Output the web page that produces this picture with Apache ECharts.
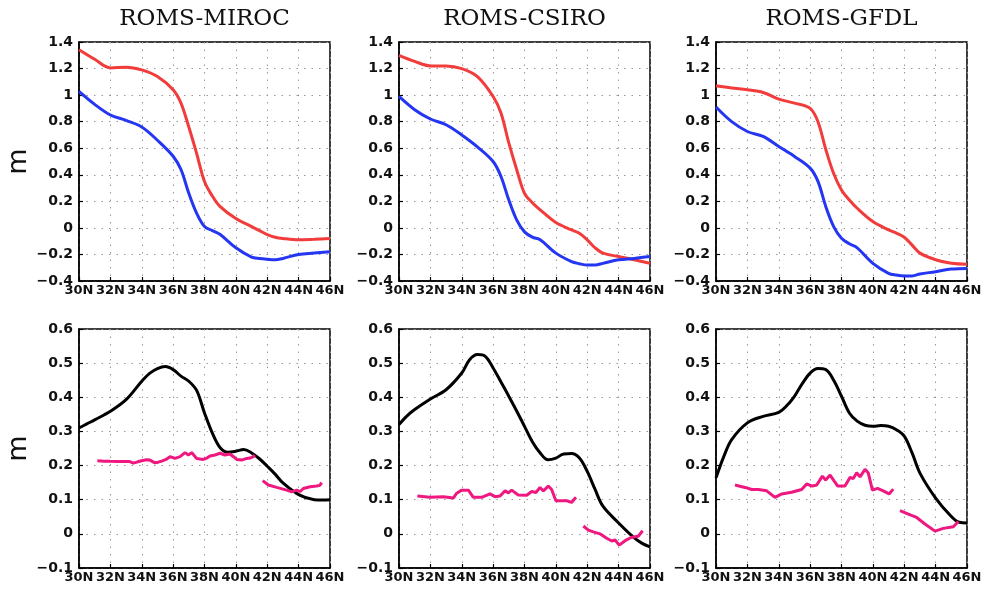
<!DOCTYPE html>
<html>
<head>
<meta charset="utf-8">
<script src="https://cdn.jsdelivr.net/npm/echarts@6/dist/echarts.min.js"></script>
<style>html,body{margin:0;padding:0;background:#fff}#c{width:992px;height:591px}</style>
</head>
<body>
<div id="c"></div>
<script>
const titles = ['ROMS-MIROC', 'ROMS-CSIRO', 'ROMS-GFDL'];
const xTicks = [30, 32, 34, 36, 38, 40, 42, 44, 46];

// Top row: latitude grid and sea level curves (m)
const latTop = [30,31,32,33,34,35,36,36.5,37,37.5,38,38.5,39,40,41,41.5,42,42.5,43,44,45,46];
const mirocRed  = [1.342,1.27,1.205,1.21,1.19,1.14,1.04,0.94,0.76,0.56,0.35,0.24,0.16,0.07,0.01,-0.02,-0.05,-0.07,-0.08,-0.09,-0.086,-0.08];
const mirocBlue = [1.028,0.93,0.85,0.81,0.76,0.66,0.54,0.44,0.26,0.11,0.01,-0.02,-0.05,-0.15,-0.22,-0.23,-0.236,-0.24,-0.23,-0.2,-0.19,-0.18];
const csiroRed  = [1.30,1.254,1.22,1.22,1.20,1.14,0.99,0.865,0.64,0.44,0.26,0.19,0.136,0.04,-0.015,-0.04,-0.09,-0.15,-0.19,-0.216,-0.24,-0.267];
const csiroBlue = [0.99,0.89,0.82,0.777,0.70,0.61,0.50,0.387,0.21,0.06,-0.03,-0.07,-0.09,-0.19,-0.254,-0.27,-0.28,-0.28,-0.267,-0.24,-0.23,-0.216];
const gfdlRed   = [1.07,1.053,1.04,1.02,0.97,0.94,0.90,0.80,0.59,0.41,0.286,0.21,0.148,0.048,-0.015,-0.04,-0.07,-0.13,-0.19,-0.24,-0.267,-0.274];
const gfdlBlue  = [0.91,0.80,0.726,0.689,0.613,0.538,0.45,0.35,0.16,0.01,-0.078,-0.12,-0.15,-0.267,-0.342,-0.355,-0.362,-0.362,-0.347,-0.33,-0.31,-0.305];

// Bottom row: black curves
const latBot = [30,30.5,31,32,33,34,34.5,35,35.5,36,36.5,37,37.5,38,38.5,39,39.5,40,40.5,41,41.5,42,42.5,43,44,45,45.5,46];
const mirocBlack = [0.31,0.322,0.334,0.359,0.393,0.447,0.47,0.484,0.49,0.481,0.462,0.447,0.42,0.354,0.295,0.252,0.239,0.242,0.247,0.237,0.22,0.198,0.175,0.149,0.115,0.10,0.099,0.10];
const csiroBlack = [0.32,0.345,0.364,0.395,0.422,0.471,0.51,0.525,0.52,0.486,0.445,0.403,0.36,0.315,0.27,0.237,0.217,0.222,0.234,0.235,0.222,0.183,0.13,0.081,0.032,-0.012,-0.028,-0.038];
const gfdlBlack  = [0.164,0.227,0.276,0.325,0.344,0.356,0.375,0.403,0.44,0.471,0.484,0.481,0.45,0.403,0.354,0.33,0.318,0.315,0.317,0.315,0.305,0.286,0.237,0.178,0.105,0.051,0.034,0.032];

// Bottom row: pink curves, two segments each
const mirocPinkLatA = [31.17,31.6,31.98,32.4,32.83,33.2,33.46,33.75,33.99,34.3,34.52,34.84,35.05,35.27,35.55,35.8,36.12,36.44,36.76,36.97,37.18,37.5,37.92,38.15,38.35,38.67,38.99,39.3,39.62,39.85,40.05,40.37,40.69,40.9,41.11,41.2];
const mirocPinkValA = [0.214,0.213,0.2125,0.212,0.212,0.212,0.207,0.211,0.214,0.217,0.216,0.208,0.21,0.213,0.218,0.226,0.221,0.226,0.238,0.231,0.238,0.221,0.218,0.222,0.228,0.231,0.236,0.231,0.234,0.226,0.218,0.216,0.221,0.222,0.226,0.231];
const mirocPinkLatB = [41.71,42.07,42.6,43.24,43.56,43.88,44.1,44.3,44.73,45.15,45.35,45.47];
const mirocPinkValB = [0.156,0.143,0.136,0.128,0.123,0.128,0.124,0.133,0.138,0.14,0.142,0.15];

const csiroPinkLatA = [31.17,31.98,32.82,33.46,33.68,34.0,34.42,34.74,35.27,35.8,36.12,36.44,36.76,36.97,37.18,37.6,38.14,38.46,38.73,38.99,39.2,39.52,39.73,40.0,40.37,40.69,41.0,41.28];
const csiroPinkValA = [0.111,0.107,0.109,0.105,0.119,0.128,0.128,0.107,0.107,0.117,0.109,0.111,0.126,0.12,0.128,0.114,0.113,0.124,0.121,0.136,0.126,0.14,0.13,0.097,0.097,0.097,0.092,0.107];
const csiroPinkLatB = [41.75,42.07,42.39,42.81,43.24,43.56,43.77,44.04,44.41,44.83,45.25,45.53];
const csiroPinkValB = [0.023,0.011,0.006,0.0,-0.013,-0.021,-0.018,-0.033,-0.02,-0.01,-0.007,0.009];

const gfdlPinkLatA = [31.21,31.85,32.28,32.7,33.23,33.76,34.19,34.82,35.46,35.78,36.14,36.42,36.78,36.99,37.27,37.76,38.22,38.54,38.75,38.97,39.18,39.5,39.71,39.97,40.3,40.66,41.03,41.3];
const gfdlPinkValA = [0.143,0.136,0.13,0.13,0.126,0.107,0.117,0.122,0.13,0.146,0.14,0.143,0.169,0.158,0.172,0.14,0.14,0.165,0.162,0.179,0.167,0.189,0.178,0.128,0.133,0.126,0.117,0.131];
const gfdlPinkLatB = [41.73,42.26,42.79,43.32,43.96,44.49,45.13,45.45];
const gfdlPinkValB = [0.068,0.058,0.048,0.029,0.008,0.016,0.021,0.036];

const pairs = (xs, ys) => xs.map((x, i) => [x, ys[i]]);

const lefts = [79, 399, 716];
const W = 251, H = 239;
const tops = [42, 329];
const RED = '#f23b3b', BLUE = '#2436f2', PINK = '#ef1780', BLACK = '#000';

const grids = [], xAxes = [], yAxes = [], series = [];
const topSets = [[mirocRed, mirocBlue], [csiroRed, csiroBlue], [gfdlRed, gfdlBlue]];
const botSets = [
  [mirocBlack, [mirocPinkLatA, mirocPinkValA], [mirocPinkLatB, mirocPinkValB]],
  [csiroBlack, [csiroPinkLatA, csiroPinkValA], [csiroPinkLatB, csiroPinkValB]],
  [gfdlBlack,  [gfdlPinkLatA, gfdlPinkValA],  [gfdlPinkLatB, gfdlPinkValB]]
];

const dotted = { color: '#999', width: 1, type: [1.5, 6] };

for (let r = 0; r < 2; r++) {
  for (let c = 0; c < 3; c++) {
    const idx = grids.length;
    grids.push({ left: lefts[c], top: tops[r], width: W, height: H, show: true, borderColor: '#000', borderWidth: 1.5, backgroundColor: 'transparent' });
    xAxes.push({
      type: 'value', gridIndex: idx, min: 30, max: 46, interval: 2,
      axisLine: { show: true, onZero: false, lineStyle: { color: '#000', width: 1.5 } },
      axisTick: { show: true, inside: true, length: 4, lineStyle: { color: '#000', width: 1.2 } },
      splitLine: { show: true, lineStyle: dotted },
      axisLabel: { color: '#111', fontFamily: 'DejaVu Sans', fontWeight: 'bold', fontSize: 13, margin: 3,
        formatter: v => v + 'N', showMinLabel: true, showMaxLabel: true, hideOverlap: false }
    });
    const yCfg = r === 0 ? { min: -0.4, max: 1.4, interval: 0.2 } : { min: -0.1, max: 0.6, interval: 0.1 };
    yAxes.push(Object.assign({
      type: 'value', gridIndex: idx,
      axisLine: { show: true, onZero: false, lineStyle: { color: '#000', width: 1.5 } },
      axisTick: { show: true, inside: true, length: 4, lineStyle: { color: '#000', width: 1.2 } },
      splitLine: { show: true, lineStyle: dotted },
      axisLabel: { color: '#111', fontFamily: 'DejaVu Sans', fontWeight: 'bold', fontSize: 14, margin: 6,
        formatter: v => { const s = (Math.round(v * 10) / 10).toString(); return s.replace('-', '\u2212'); } },
      name: c === 0 ? 'm' : '', nameLocation: 'middle', nameGap: 46,
      nameTextStyle: { fontFamily: 'DejaVu Sans', fontSize: 27, color: '#111' }
    }, yCfg));
    const base = { type: 'line', xAxisIndex: idx, yAxisIndex: idx, showSymbol: false, symbol: 'none', silent: true };
    if (r === 0) {
      series.push(Object.assign({}, base, { smooth: 0.35, data: pairs(latTop, topSets[c][0]), lineStyle: { color: RED, width: 3 } }));
      series.push(Object.assign({}, base, { smooth: 0.35, data: pairs(latTop, topSets[c][1]), lineStyle: { color: BLUE, width: 3 } }));
    } else {
      series.push(Object.assign({}, base, { smooth: 0.35, data: pairs(latBot, botSets[c][0]), lineStyle: { color: BLACK, width: 3 } }));
      series.push(Object.assign({}, base, { data: pairs(botSets[c][1][0], botSets[c][1][1]), lineStyle: { color: PINK, width: 3 } }));
      series.push(Object.assign({}, base, { data: pairs(botSets[c][2][0], botSets[c][2][1]), lineStyle: { color: PINK, width: 3 } }));
    }
  }
}

const graphic = titles.map((t, c) => ({
  type: 'text', x: lefts[c] + W / 2, y: 19,
  style: { text: t, fontFamily: 'DejaVu Serif', fontSize: 23, fill: '#111', align: 'center', verticalAlign: 'middle' }
}));

const chart = echarts.init(document.getElementById('c'), null, { renderer: 'canvas' });
chart.setOption({
  animation: false,
  backgroundColor: '#fff',
  grid: grids, xAxis: xAxes, yAxis: yAxes, series: series, graphic: graphic
});
</script>
</body>
</html>
